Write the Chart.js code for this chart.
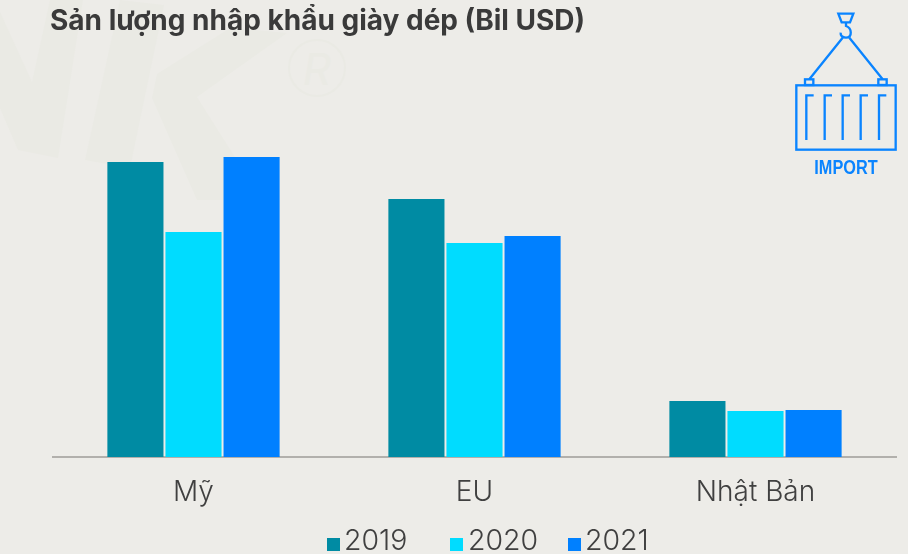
<!DOCTYPE html>
<html lang="vi">
<head>
<meta charset="utf-8">
<title>Sản lượng nhập khẩu giày dép</title>
<script src="https://cdn.jsdelivr.net/npm/chart.js@4"></script>
<style>
  html, body { margin: 0; padding: 0; background: #edece8; overflow: hidden; }
  #wrap { position: relative; width: 908px; height: 554px; font-family: Inter, "Noto Sans", sans-serif; color: #404040; overflow: hidden; }
  #mark, #icon, #myChart, #title, #legend { position: absolute; }
  #mark { left: 0; top: 0; }
  #myChart { left: 0; top: 0; }
  #icon { left: 770px; top: 0; }
  #title { left: 50px; top: 3px; margin: 0; font-size: 28px; line-height: 34px; font-weight: 700; color: #3a3a3a; white-space: nowrap; }
  #legend span { position: absolute; top: 523px; font-size: 28.5px; font-weight: 300; line-height: 34px; white-space: nowrap; }
  #legend i { position: absolute; top: 538px; width: 13px; height: 13px; }
</style>
</head>
<body>
<div id="wrap">
  <svg id="mark" width="908" height="554">
    <g fill="#eaeae4">
      <polygon points="0,12 32,82 50,0 83,0 58,158 18,150 0,108"/>
      <polygon points="120,0 164,5 130,168 85,160"/>
      <polygon points="157,74 230,28 287,33 197,97 240,165 240,200 197,200 152,98"/>
    </g>
    <circle cx="317" cy="68" r="28" fill="none" stroke="#eaeae4" stroke-width="2"/>
    <text x="317" y="85" text-anchor="middle" font-family="Inter" font-style="italic" font-size="44" fill="#eaeae4">R</text>
  </svg>
  <canvas id="myChart" width="908" height="554"></canvas>
  <h1 id="title">Sản lượng nhập khẩu giày dép (Bil USD)</h1>
  <div id="legend"></div>
  <svg id="icon" width="138" height="190" viewBox="0 0 414 570">
    <g fill="none" stroke="#0a84ff" stroke-width="7">
      <polygon points="205,41 250,41 240,67 215,67"/>
      <path d="M228,67 V78 C246,84 248,112 228,113 C216,113 211,106 212,98"/>
      <path d="M218,113 L118,238 M238,113 L338,238"/>
      <rect x="105" y="238" width="25" height="17"/>
      <rect x="325" y="238" width="25" height="17"/>
      <rect x="79" y="256" width="298" height="193"/>
      <path d="M109,420 V286 H131 M164,420 V286 H186 M218,420 V286 H240 M272,420 V286 H294 M327,420 V286 H349"/>
    </g>
    <text x="133" y="522" textLength="190" lengthAdjust="spacingAndGlyphs" font-family="Liberation Sans" font-weight="700" font-size="60" fill="#0a84ff">IMPORT</text>
  </svg>
</div>
<script>
const categories = ['Mỹ', 'EU', 'Nhật Bản'];
const years = ['2019', '2020', '2021'];
const values2019 = [29.5, 25.8, 5.6];
const values2020 = [22.5, 21.4, 4.6];
const values2021 = [30.0, 22.1, 4.7];
const colors = ['#008ba3', '#00dcff', '#0080ff'];

// Chú giải vẽ bằng HTML vì khoảng cách ô màu - chữ của Chart.js quá rộng
const legendBox = [327, 450, 568];
const legendText = [344, 468, 585];
const legendEl = document.getElementById('legend');
years.forEach(function (y, i) {
    legendEl.insertAdjacentHTML('beforeend',
        '<i style="left:' + legendBox[i] + 'px;background:' + colors[i] + '"></i>' +
        '<span style="left:' + legendText[i] + 'px">' + y + '</span>');
});

const ctx = document.getElementById('myChart').getContext('2d');
new Chart(ctx, {
    type: 'bar',
    data: {
        labels: categories,
        datasets: [
            { label: years[0], data: values2019, backgroundColor: colors[0] },
            { label: years[1], data: values2020, backgroundColor: colors[1] },
            { label: years[2], data: values2021, backgroundColor: colors[2] }
        ]
    },
    options: {
        responsive: false,
        animation: false,
        categoryPercentage: 0.62,
        barPercentage: 0.966,
        layout: { padding: { left: 53, right: 12, top: 57, bottom: 0 } },
        plugins: { legend: { display: false }, title: { display: false }, tooltip: { enabled: false } },
        scales: {
            x: {
                afterFit: function (scale) { scale.height = 97; },
                grid: { display: false },
                border: { color: '#b2b0ac', width: 2 },
                ticks: { color: '#404040', padding: 11, font: { family: 'Inter', size: 28, weight: '300' } }
            },
            y: { display: false, min: 0, max: 40 }
        }
    }
});
</script>
</body>
</html>
